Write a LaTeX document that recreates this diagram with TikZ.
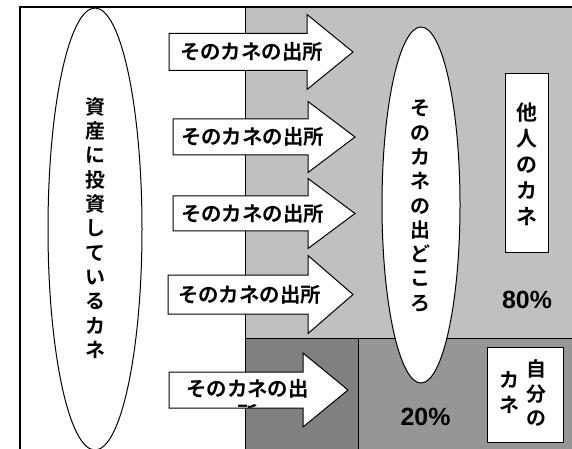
\documentclass[tikz,border=0pt]{standalone}
\usepackage{fontspec}
\setmainfont{Liberation Sans}
\newfontfamily\jp{Noto Sans CJK JP Bold}
\usetikzlibrary{shapes.geometric}
\tikzset{
  arrowshape/.style={draw=black, fill=white, line width=1bp, line join=miter},
  arrtext/.style={font=\jp\fontsize{20.5}{24}\selectfont, inner sep=0pt},
  vtext/.style={font=\jp\fontsize{20}{24.4}\selectfont, align=center, inner sep=0pt},
  oval/.style={ellipse, draw=black, fill=white, line width=1bp, inner sep=0pt},
  labelbox/.style={draw=black, fill=white, line width=1bp},
  pct/.style={font=\bfseries\fontsize{25}{28}\selectfont, inner sep=0pt},
  region/.style={draw=black, line width=0.8bp}
}
\newcommand\fatarr[6]{% xL, xH, xT, cy, b, h
  \draw[arrowshape] (#1,#4-#5) -- (#2,#4-#5) -- (#2,#4-#6) -- (#3,#4)
    -- (#2,#4+#6) -- (#2,#4+#5) -- (#1,#4+#5) -- cycle;}
\begin{document}
\begin{tikzpicture}[x=1bp,y=-1bp]
\useasboundingbox (0,0) rectangle (572,449);
\begin{scope}
\clip (0,0) rectangle (572,449);
% regions
\fill[white] (20,7) rectangle (245,460);
\filldraw[region, fill={rgb,255:red,192;green,192;blue,192}] (245,7) rectangle (580,338);
\filldraw[region, fill={rgb,255:red,128;green,128;blue,128}] (245,338) rectangle (358,460);
\filldraw[region, fill={rgb,255:red,150;green,150;blue,150}] (358,338) rectangle (580,460);
% frame
\draw[line width=2bp] (20,460) -- (20,7) -- (580,7);
% left ellipse
\node[oval, minimum width=94bp, minimum height=442bp] (assets) at (95,229) {};
\node[vtext] (assetstext) at (95,228) {資\\産\\に\\投\\資\\し\\て\\い\\る\\カ\\ネ};
% arrows
\fatarr{169}{307}{353}{52}{18.5}{37.5}
\node[arrtext] (a1) at (251.5,52) {そのカネの出所};
\fatarr{173}{308}{355}{137}{18}{35.5}
\node[arrtext] (a2) at (252.5,137) {そのカネの出所};
\fatarr{173}{308}{355}{213.5}{17.5}{35}
\node[arrtext] (a3) at (252.5,213.5) {そのカネの出所};
\fatarr{168}{308}{353}{294.5}{19.5}{39}
\node[arrtext] (a4) at (249.5,294.5) {そのカネの出所};
% middle ellipse
\node[oval, minimum width=78bp, minimum height=356bp] (source) at (421,205) {};
\node[vtext] (sourcetext) at (420,206) {そ\\の\\カ\\ネ\\の\\出\\ど\\こ\\ろ};
% arrow 5
\fatarr{169}{303}{348}{390}{18}{37}
\node[arrtext] (a5) at (247.5,389) {そのカネの出};
\begin{scope}
\clip (169.5,372.5) rectangle (302.5,407.5);
\node[arrtext] (a5b) at (247.5,414) {所};
\end{scope}
% others' money
\node[labelbox, minimum width=43bp, minimum height=178bp, inner sep=0pt] (others) at (526.5,163) {};
\node[vtext, font=\jp\fontsize{21}{26}\selectfont] (otherstext) at (526.5,164.5) {他\\人\\の\\カ\\ネ};
\node[pct] (p80) at (527,300) {80\%};
% own money
\node[labelbox, minimum width=76bp, minimum height=95bp, inner sep=0pt] (own) at (525,394.5) {};
\node[vtext, font=\jp\fontsize{20}{25}\selectfont] (owntext1) at (536,393) {自\\分\\の};
\node[vtext, font=\jp\fontsize{20}{25}\selectfont] (owntext2) at (509,392.5) {カ\\ネ};
\node[pct] (p20) at (425.5,417) {20\%};
\end{scope}
\end{tikzpicture}
\end{document}
